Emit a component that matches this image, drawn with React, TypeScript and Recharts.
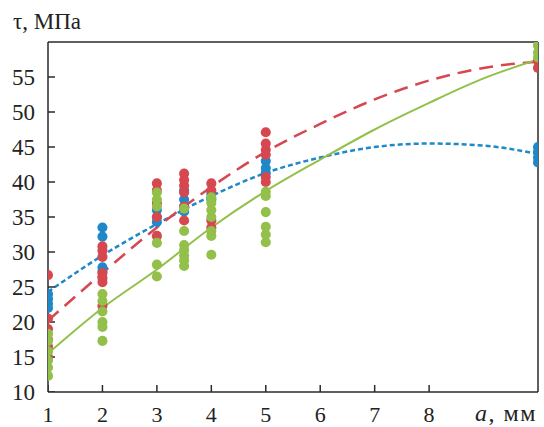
import React from "react";
import { ComposedChart, Scatter, Line, XAxis, YAxis, ZAxis, ReferenceLine } from "recharts";

// measurement positions, a (mm)
const positions = [1, 2, 3, 3.5, 4, 5, 10];

// measured tau (MPa) for each position
const blueValues = [
  [24, 23.3, 22.6, 22],
  [33.5, 32.2, 27.8, 27.2],
  [36, 35, 34.3],
  [38.8, 37.5, 36.5, 35.8],
  [38.3, 37.5],
  [43, 42, 41.3],
  [45, 44.3, 43.5, 42.8],
];
const redValues = [
  [26.7, 20.5, 19, 17.5, 16.5, 15],
  [30.8, 30.2, 29.3, 27, 26.3, 25.7, 22.3],
  [39.8, 38.8, 37, 35, 32.3],
  [41.2, 40.3, 39.5, 38.5, 36.5, 34.5],
  [39.8, 38.8, 34.5, 33.5],
  [47.1, 45.5, 44.6, 43.9, 40.7, 40],
  [57.3, 56.3],
];
const greenValues = [
  [18.3, 17.3, 15.8, 14.5, 13.5, 12.3],
  [24, 23, 21.5, 20, 19.3, 17.3],
  [38.5, 37.5, 36.5, 31.3, 28.2, 26.5],
  [36.2, 33, 31, 30.3, 29.5, 28.8, 28],
  [37.8, 37, 36, 35, 33, 32.3, 29.6],
  [38.6, 38, 35.7, 33.6, 32.5, 31.4],
  [59.5, 58.5, 57.8],
];

// approximating curves read at whole a values
const fitX = [1, 2, 3, 4, 5, 6, 7, 8, 9, 10];
const blueFit = [24.3, 29.5, 34, 38, 41.3, 43.5, 45, 45.5, 45.2, 44];
const redFit = [20.2, 27, 33.5, 39.3, 44.3, 48.3, 51.8, 54.5, 56.3, 57.2];
const greenFit = [15.5, 22, 27.5, 33.5, 38.7, 43.2, 47.5, 51.3, 54.8, 57.5];

const xTicks = [1, 2, 3, 4, 5, 6, 7, 8];
const yTicks = [10, 15, 20, 25, 30, 35, 40, 45, 50, 55];

const BLUE = "#1e88c9";
const RED = "#d6474f";
const GREEN = "#92c04a";
const AXIS = "#2a2a2a";
const FONT = "Liberation Serif, Times New Roman, serif";

const toPoints = (vals: number[][]) =>
  positions.flatMap((x, i) => vals[i].map((y) => ({ x, y })));
const toCurve = (vals: number[]) => fitX.map((x, i) => ({ x, y: vals[i] }));

// inward tick marks, placed on the axes through the chart scales
const xTickMarks = xTicks.map((t) => ({ x: t, y: 10 }));
const yTickMarks = yTicks.map((t) => ({ x: 1, y: t }));

const UpTick = (props: any) => (
  <line x1={props.cx} y1={props.cy} x2={props.cx} y2={props.cy - 7} stroke={AXIS} strokeWidth={1.5} />
);
const RightTick = (props: any) => (
  <line x1={props.cx} y1={props.cy} x2={props.cx + 7} y2={props.cy} stroke={AXIS} strokeWidth={1.5} />
);

const XTick = (props: any) => {
  const { x, y, payload } = props;
  return (
    <text x={x} y={y + 30} textAnchor="middle" fontSize={22} fontFamily={FONT} fill="#222">
      {payload.value}
    </text>
  );
};

const YTick = (props: any) => {
  const { x, y, payload } = props;
  return (
    <text x={x - 13} y={y + 8} textAnchor="end" fontSize={23} fontFamily={FONT} fill="#222">
      {payload.value}
    </text>
  );
};

export default function App() {
  return (
    <div style={{ position: "absolute", left: 0, top: 0, width: 544, height: 427, fontFamily: FONT, color: "#222" }}>
      <div style={{ position: "absolute", left: 13, top: 9, fontSize: 23, lineHeight: "26px" }}>
        τ, МПа
      </div>
      <div style={{ position: "absolute", left: 475, top: 400, fontSize: 24, lineHeight: "26px", letterSpacing: 1.5 }}>
        <i>a</i>, мм
      </div>
      <ComposedChart width={544} height={427} margin={{ top: 42, right: 6, bottom: 0, left: 0 }}>
        <XAxis
          dataKey="x"
          type="number"
          domain={[1, 10]}
          ticks={xTicks}
          height={35}
          tickSize={0}
          tickMargin={0}
          tickLine={false}
          tick={<XTick />}
          stroke={AXIS}
          strokeWidth={1.5}
          allowDataOverflow
        />
        <YAxis
          dataKey="y"
          type="number"
          domain={[10, 60]}
          ticks={yTicks}
          width={48}
          tickSize={0}
          tickMargin={0}
          tickLine={false}
          tick={<YTick />}
          stroke={AXIS}
          strokeWidth={1.5}
          allowDataOverflow
        />
        <ZAxis range={[80, 80]} />
        <ReferenceLine y={60} stroke={AXIS} strokeWidth={1.5} ifOverflow="visible" />
        <ReferenceLine x={10} stroke={AXIS} strokeWidth={1.5} ifOverflow="visible" />
        <Scatter data={xTickMarks} shape={<UpTick />} isAnimationActive={false} />
        <Scatter data={yTickMarks} shape={<RightTick />} isAnimationActive={false} />
        <Scatter data={toPoints(blueValues)} fill={BLUE} isAnimationActive={false} />
        <Scatter data={toPoints(redValues)} fill={RED} isAnimationActive={false} />
        <Scatter data={toPoints(greenValues)} fill={GREEN} isAnimationActive={false} />
        <Line
          data={toCurve(blueFit)}
          dataKey="y"
          type="monotone"
          stroke={BLUE}
          strokeWidth={2.5}
          strokeDasharray="5 3"
          dot={false}
          activeDot={false}
          isAnimationActive={false}
        />
        <Line
          data={toCurve(redFit)}
          dataKey="y"
          type="monotone"
          stroke={RED}
          strokeWidth={2.5}
          strokeDasharray="14 8"
          dot={false}
          activeDot={false}
          isAnimationActive={false}
        />
        <Line
          data={toCurve(greenFit)}
          dataKey="y"
          type="monotone"
          stroke={GREEN}
          strokeWidth={2}
          dot={false}
          activeDot={false}
          isAnimationActive={false}
        />
      </ComposedChart>
    </div>
  );
}
